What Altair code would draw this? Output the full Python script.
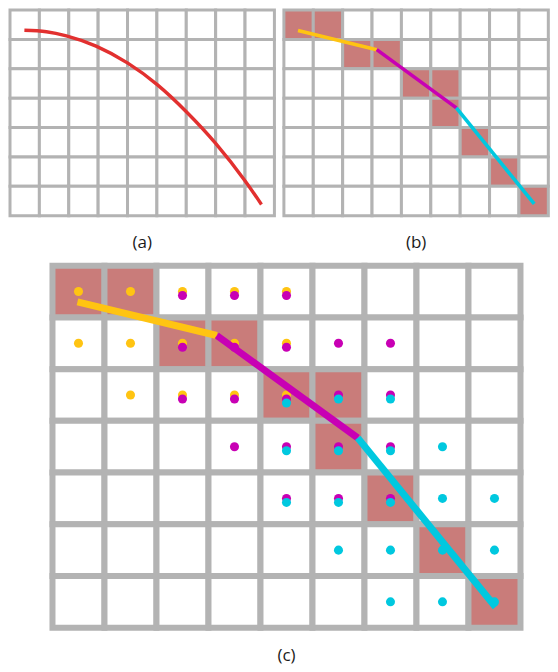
import altair as alt
import pandas as pd

# ---------------- data ----------------
N_COLS = 9
N_ROWS = 7

# highlighted cells (column, row), row 0 at top
hit_cols = [0, 1, 2, 3, 4, 5, 5, 6, 7, 8]
hit_rows = [0, 0, 1, 1, 2, 2, 3, 4, 5, 6]

# red curve of panel (a), in grid units
curve_x = [0.49, 1.24, 1.92, 2.93, 4.01, 5.01, 6.01, 7.00, 8.01, 8.56]
curve_y = [0.69, 0.74, 0.88, 1.23, 1.81, 2.54, 3.47, 4.54, 5.83, 6.62]

# polyline knots of panels (b) and (c)
knot_x = [0.48, 3.16, 5.87, 8.52]
knot_y = [0.70, 1.35, 3.33, 6.60]
seg_names = ["yellow", "magenta", "cyan"]

# dots of panel (c): for each row, the columns that hold a dot of that colour
yellow_dots = {0: [0, 1, 2, 3, 4], 1: [0, 1, 2, 3, 4], 2: [1, 2, 3, 4]}
magenta_dots = {0: [2, 3, 4], 1: [2, 3, 4, 5, 6], 2: [2, 3, 4, 5, 6],
                3: [3, 4, 5, 6], 4: [4, 5, 6]}
cyan_dots = {2: [4, 5, 6], 3: [4, 5, 6, 7], 4: [4, 5, 6, 7, 8],
             5: [5, 6, 7, 8], 6: [6, 7, 8]}

labels = ["(a)", "(b)", "(c)"]

# ---------------- styles ----------------
GRID = "#b3b3b3"
HIT = "#c97c7a"
RED = "#e2302f"
SEG_COLORS = ["#ffc412", "#c800b4", "#00c8df"]
FONT = "Open Sans"
LABEL_SIZE = 17
DOT_STEP = 4  # px shift of a dot that shares a cell with earlier dots

PITCH_AB = 29.38
PITCH_C = 52.0
C_HEIGHT = 362
C_LEFT = -0.817   # panel (c) view starts left of its grid (indent)

# ---------------- tables ----------------
hits = set(zip(hit_cols, hit_rows))
cells_plain = pd.DataFrame(
    [dict(c0=c, c1=c + 1, r0=r, r1=r + 1, kind="empty")
     for r in range(N_ROWS) for c in range(N_COLS)])
cells_hit = pd.DataFrame(
    [dict(c0=c, c1=c + 1, r0=r, r1=r + 1,
          kind="hit" if (c, r) in hits else "empty")
     for r in range(N_ROWS) for c in range(N_COLS)])

curve_df = pd.DataFrame({"x": curve_x, "y": curve_y, "o": range(len(curve_x))})

seg_rows = []
for i, name in enumerate(seg_names):
    for j in (i, i + 1):
        seg_rows.append(dict(seg=name, x=knot_x[j], y=knot_y[j], o=j))
seg_df = pd.DataFrame(seg_rows)

dot_rows = []
stack = {}
for name, d in zip(seg_names, [yellow_dots, magenta_dots, cyan_dots]):
    for r, cols in d.items():
        for c in cols:
            k = stack.get((c, r), 0)
            stack[(c, r)] = k + 1
            dot_rows.append(dict(seg=name, x=c + 0.5, y=r + 0.5, k=k))
dot_df = pd.DataFrame(dot_rows)

xs = alt.Scale(domain=[0, N_COLS], nice=False, zero=False)
xs_c = alt.Scale(domain=[C_LEFT, N_COLS], nice=False, zero=False)
ys = alt.Scale(domain=[0, N_ROWS], nice=False, zero=False, reverse=True)
seg_scale = alt.Scale(domain=seg_names, range=SEG_COLORS)
fill_scale = alt.Scale(domain=["empty", "hit"], range=["#ffffff", HIT])


def grid_layer(df, sw, xsc):
    return alt.Chart(df).mark_rect(stroke=GRID, strokeWidth=sw).encode(
        x=alt.X("c0:Q", scale=xsc, axis=None),
        x2="c1:Q",
        y=alt.Y("r0:Q", scale=ys, axis=None),
        y2="r1:Q",
        fill=alt.Fill("kind:N", scale=fill_scale, legend=None),
    )


def label_layer(text, ypos, xsc):
    df = pd.DataFrame({"t": [text], "x": [N_COLS / 2], "y": [ypos]})
    return alt.Chart(df).mark_text(font=FONT, fontSize=LABEL_SIZE,
                                   color="#1a1a1a", baseline="middle").encode(
        x=alt.X("x:Q", scale=xsc, axis=None),
        y=alt.Y("y:Q", scale=ys, axis=None),
        text="t:N",
    )


def seg_layer(width, xsc):
    return alt.Chart(seg_df).mark_line(strokeWidth=width, strokeCap="butt").encode(
        x=alt.X("x:Q", scale=xsc, axis=None),
        y=alt.Y("y:Q", scale=ys, axis=None),
        color=alt.Color("seg:N", scale=seg_scale, legend=None),
        order="o:Q",
    )


def dot_layer(k, xsc):
    return alt.Chart(dot_df).transform_filter(
        alt.datum.k == k
    ).mark_circle(size=82, opacity=1, yOffset=DOT_STEP * k).encode(
        x=alt.X("x:Q", scale=xsc, axis=None),
        y=alt.Y("y:Q", scale=ys, axis=None),
        color=alt.Color("seg:N", scale=seg_scale, legend=None),
    )


WA = N_COLS * PITCH_AB
HA = N_ROWS * PITCH_AB

panel_a = alt.layer(
    grid_layer(cells_plain, 3, xs),
    alt.Chart(curve_df).mark_line(color=RED, strokeWidth=3.4,
                                  interpolate="monotone").encode(
        x=alt.X("x:Q", scale=xs, axis=None),
        y=alt.Y("y:Q", scale=ys, axis=None),
        order="o:Q",
    ),
    label_layer(labels[0], 7.935, xs),
).properties(width=WA, height=HA)

panel_b = alt.layer(
    grid_layer(cells_hit, 3, xs),
    seg_layer(3.6, xs),
    label_layer(labels[1], 7.935, xs),
).properties(width=WA, height=HA)

panel_c = alt.layer(
    grid_layer(cells_hit, 6, xs_c),
    dot_layer(0, xs_c), dot_layer(1, xs_c), dot_layer(2, xs_c),
    seg_layer(7, xs_c),
    label_layer(labels[2], 7.551, xs_c),
).properties(width=(N_COLS - C_LEFT) * PITCH_C, height=C_HEIGHT)

top = alt.hconcat(panel_a, panel_b, spacing=5.9)

chart = alt.vconcat(top, panel_c, spacing=10.7).properties(
    padding={"left": 0, "top": 0, "right": 0, "bottom": 0}
).configure_view(strokeWidth=0).resolve_scale(x="independent")

chart.save("out.html", embed_options={"renderer": "svg", "actions": False})
